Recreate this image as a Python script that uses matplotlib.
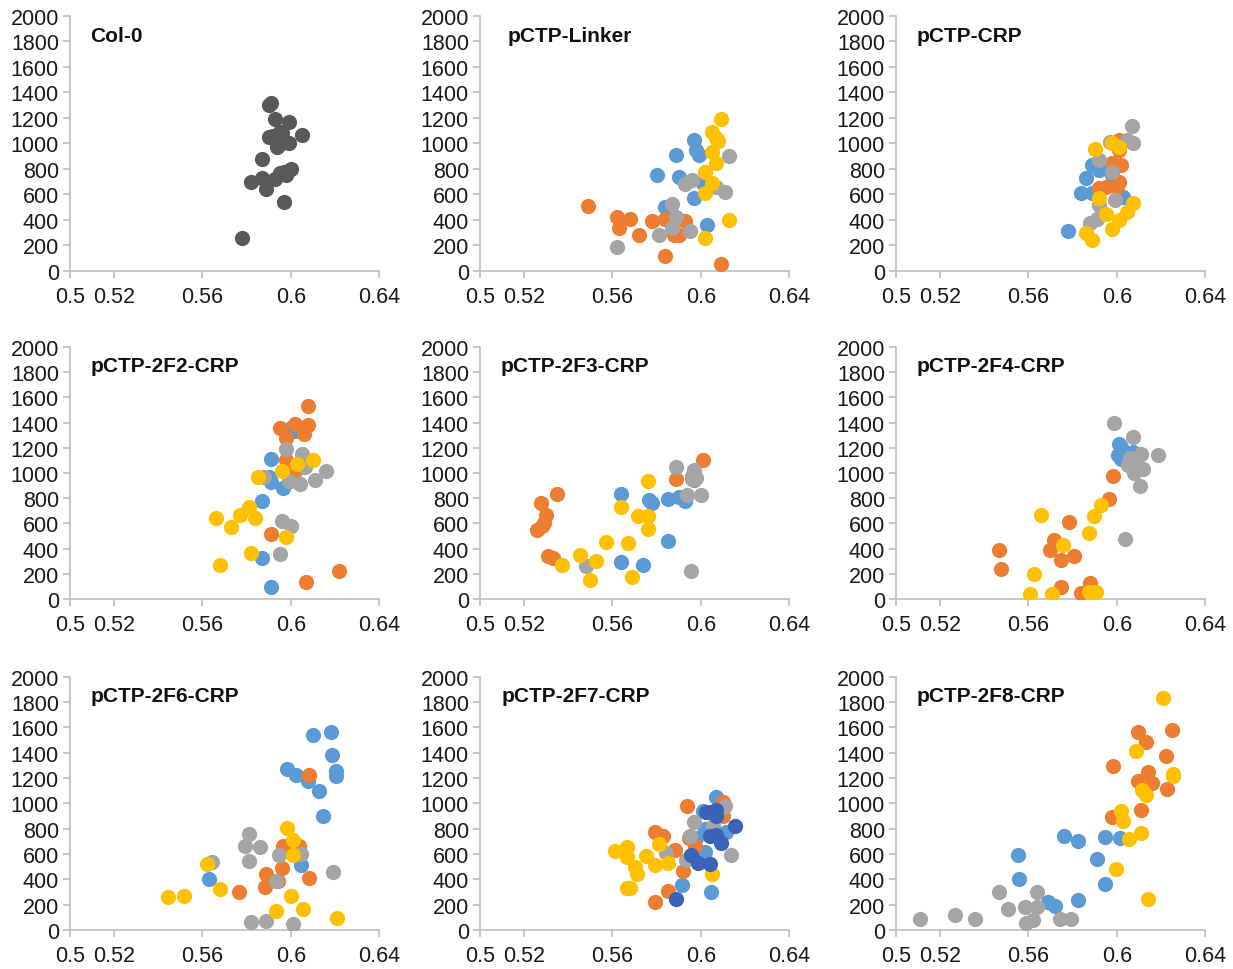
import matplotlib
matplotlib.use("Agg")
import matplotlib.pyplot as plt

plt.rcParams['font.family'] = ['Liberation Sans', 'DejaVu Sans']

# ---------------- data ----------------
x_ticks = [0.5, 0.52, 0.56, 0.6, 0.64]
x_tick_labels = ["0.5", "0.52", "0.56", "0.6", "0.64"]
y_ticks = list(range(0, 2001, 200))

titles = ["Col-0", "pCTP-Linker", "pCTP-CRP",
          "pCTP-2F2-CRP", "pCTP-2F3-CRP", "pCTP-2F4-CRP",
          "pCTP-2F6-CRP", "pCTP-2F7-CRP", "pCTP-2F8-CRP"]

# Col-0
col0_x = [0.578, 0.582, 0.587, 0.587, 0.589, 0.590, 0.591, 0.593, 0.590, 0.593, 0.595, 0.596,
          0.594, 0.596, 0.599, 0.599, 0.605, 0.597, 0.593, 0.595, 0.597, 0.600, 0.598, 0.592]
col0_y = [260, 700, 880, 730, 640, 1300, 1320, 1190, 1050, 1040, 1090, 1080,
          975, 1000, 1165, 1000, 1070, 540, 725, 765, 780, 800, 750, 1060]

# pCTP-Linker
lk_blue_x = [0.580, 0.589, 0.590, 0.584, 0.597, 0.598, 0.599, 0.597, 0.601, 0.603]
lk_blue_y = [750, 910, 740, 505, 1030, 950, 910, 570, 690, 360]
lk_orange_x = [0.549, 0.562, 0.563, 0.568, 0.572, 0.578, 0.584, 0.584, 0.588, 0.590, 0.593, 0.609]
lk_orange_y = [510, 420, 340, 410, 280, 390, 410, 120, 280, 280, 390, 55]
lk_gray_x = [0.562, 0.581, 0.587, 0.587, 0.589, 0.595, 0.593, 0.596, 0.607, 0.611, 0.613]
lk_gray_y = [190, 280, 340, 525, 420, 315, 680, 710, 660, 620, 900]
lk_yellow_x = [0.609, 0.605, 0.607, 0.608, 0.605, 0.607, 0.602, 0.605, 0.602, 0.602, 0.613]
lk_yellow_y = [1190, 1090, 1040, 1020, 935, 850, 780, 690, 610, 260, 400]

# pCTP-CRP
crp_blue_x = [0.578, 0.584, 0.586, 0.589, 0.592, 0.589, 0.603, 0.598]
crp_blue_y = [310, 610, 730, 830, 790, 610, 580, 750]
crp_orange_x = [0.592, 0.595, 0.598, 0.602, 0.601, 0.600, 0.601, 0.601]
crp_orange_y = [650, 660, 845, 830, 700, 660, 1030, 950]
crp_gray_x = [0.607, 0.6075, 0.6045, 0.597, 0.592, 0.598, 0.599, 0.592, 0.588, 0.591]
crp_gray_y = [1135, 1000, 1030, 1015, 870, 780, 560, 515, 380, 410]
crp_yellow_x = [0.590, 0.598, 0.601, 0.592, 0.595, 0.598, 0.601, 0.6045, 0.6075, 0.586, 0.589]
crp_yellow_y = [960, 1000, 970, 570, 450, 333, 400, 465, 530, 295, 245]

# pCTP-2F2-CRP
f2_blue_x = [0.600, 0.602, 0.591, 0.590, 0.591, 0.5965, 0.5995, 0.587, 0.587, 0.591]
f2_blue_y = [1360, 1335, 1110, 965, 925, 880, 940, 775, 325, 92]
f2_orange_x = [0.608, 0.602, 0.595, 0.608, 0.606, 0.598, 0.598, 0.602, 0.591, 0.607, 0.622]
f2_orange_y = [1530, 1390, 1360, 1380, 1310, 1280, 1100, 1020, 515, 135, 225]
f2_gray_x = [0.598, 0.605, 0.6065, 0.604, 0.599, 0.611, 0.616, 0.596, 0.600, 0.595, 0.588]
f2_gray_y = [1190, 1150, 1045, 910, 940, 945, 1015, 620, 580, 357, 965]
f2_yellow_x = [0.566, 0.573, 0.577, 0.581, 0.584, 0.568, 0.582, 0.585, 0.596, 0.603, 0.610, 0.598]
f2_yellow_y = [640, 575, 670, 730, 640, 272, 362, 965, 1020, 1070, 1100, 490]

# pCTP-2F3-CRP
f3_blue_x = [0.5638, 0.5638, 0.574, 0.5766, 0.578, 0.585, 0.590, 0.5928, 0.585, 0.597]
f3_blue_y = [833, 291, 272, 788, 762, 796, 807, 775, 458, 947]
f3_orange_x = [0.535, 0.5276, 0.530, 0.529, 0.528, 0.5256, 0.531, 0.533, 0.601, 0.589]
f3_orange_y = [830, 762, 670, 603, 577, 545, 339, 325, 1105, 952]
f3_gray_x = [0.548, 0.5958, 0.589, 0.597, 0.598, 0.596, 0.594, 0.600, 0.596]
f3_gray_y = [260, 220, 1048, 1026, 960, 980, 828, 828, 950]
f3_yellow_x = [0.537, 0.5453, 0.5498, 0.5525, 0.5573, 0.5638, 0.5671, 0.569, 0.5714, 0.5762, 0.5762, 0.5762]
f3_yellow_y = [272, 352, 153, 299, 452, 730, 444, 175, 656, 934, 656, 558]

# pCTP-2F4-CRP
f4_blue_x = [0.601, 0.602, 0.6005, 0.6037, 0.6075, 0.602]
f4_blue_y = [1233, 1206, 1140, 1140, 1167, 1113]
f4_orange_x = [0.5985, 0.5967, 0.5785, 0.5717, 0.5698, 0.5748, 0.5806, 0.5468, 0.5476, 0.5748, 0.5837, 0.5879]
f4_orange_y = [976, 796, 611, 471, 392, 312, 341, 386, 241, 95, 48, 127]
f4_gray_x = [0.5988, 0.6075, 0.6189, 0.611, 0.6106, 0.6038, 0.607, 0.610, 0.605, 0.608, 0.612, 0.606]
f4_gray_y = [1395, 1286, 1140, 1148, 894, 479, 1080, 1050, 1060, 1000, 1030, 1120]
f4_yellow_x = [0.5657, 0.5758, 0.5627, 0.5607, 0.5708, 0.5876, 0.5906, 0.5876, 0.5897, 0.5929]
f4_yellow_y = [669, 426, 201, 37, 37, 56, 56, 524, 656, 749]

# pCTP-2F6-CRP
f6_blue_x = [0.6101, 0.6181, 0.6189, 0.6204, 0.6204, 0.5984, 0.6026, 0.6079, 0.6128, 0.6147, 0.6048, 0.5631]
f6_blue_y = [1538, 1564, 1379, 1255, 1215, 1273, 1228, 1176, 1102, 898, 510, 404]
f6_orange_x = [0.6083, 0.5966, 0.6008, 0.6038, 0.5962, 0.5943, 0.5887, 0.5883, 0.5766, 0.6083]
f6_orange_y = [1223, 660, 660, 660, 489, 388, 441, 343, 304, 410]
f6_gray_x = [0.5812, 0.5792, 0.586, 0.5812, 0.5641, 0.5947, 0.6048, 0.5932, 0.6192, 0.5822, 0.589, 0.6008]
f6_gray_y = [758, 660, 653, 542, 536, 594, 600, 388, 457, 66, 74, 45]
f6_yellow_x = [0.5442, 0.5517, 0.5622, 0.5679, 0.5981, 0.6011, 0.6011, 0.600, 0.5932, 0.6056, 0.6211]
f6_yellow_y = [259, 272, 520, 322, 806, 708, 594, 272, 153, 164, 98]

# pCTP-2F7-CRP
f7_blue_x = [0.6068, 0.6011, 0.598, 0.6018, 0.6048, 0.5913, 0.6018, 0.6116]
f7_blue_y = [1050, 937, 726, 620, 303, 356, 797, 778]
f7_orange_x = [0.5792, 0.5827, 0.5883, 0.594, 0.592, 0.585, 0.5792, 0.5947, 0.5973, 0.6101, 0.6101]
f7_orange_y = [773, 744, 633, 976, 470, 309, 224, 726, 660, 1010, 902]
f7_gray_x = [0.5842, 0.5935, 0.595, 0.597, 0.6109, 0.6139, 0.6056]
f7_gray_y = [612, 554, 744, 850, 981, 594, 818]
f7_yellow_x = [0.5611, 0.5664, 0.5664, 0.5702, 0.5712, 0.5664, 0.5679, 0.5751, 0.5792, 0.5812, 0.585, 0.6053]
f7_yellow_y = [625, 654, 575, 501, 443, 330, 330, 586, 514, 681, 533, 443]
f7_navy_x = [0.6026, 0.6048, 0.6068, 0.607, 0.6041, 0.6068, 0.6094, 0.6154, 0.5956, 0.5988, 0.6041, 0.589]
f7_navy_y = [929, 929, 950, 897, 739, 752, 686, 818, 594, 528, 522, 243]

# pCTP-2F8-CRP
f8_blue_x = [0.5554, 0.5559, 0.569, 0.572, 0.5763, 0.5826, 0.5826, 0.5909, 0.5947, 0.5947, 0.6015]
f8_blue_y = [594, 404, 224, 193, 739, 704, 237, 562, 731, 361, 726]
f8_orange_x = [0.5985, 0.6098, 0.6133, 0.6249, 0.6222, 0.6143, 0.6158, 0.6098, 0.6226, 0.611, 0.5977]
f8_orange_y = [1293, 1565, 1483, 1578, 1377, 1248, 1161, 1174, 1113, 945, 892]
f8_gray_x = [0.5109, 0.5267, 0.5358, 0.5468, 0.5509, 0.5584, 0.5637, 0.5637, 0.5587, 0.5622, 0.5743, 0.5791]
f8_gray_y = [87, 119, 87, 303, 166, 185, 185, 298, 53, 79, 84, 84]
f8_yellow_x = [0.6208, 0.6087, 0.6257, 0.6257, 0.6113, 0.6133, 0.6019, 0.6027, 0.6057, 0.611, 0.5997, 0.6143]
f8_yellow_y = [1834, 1412, 1235, 1214, 1108, 1069, 937, 858, 718, 765, 483, 245]

# ---------------- styles ----------------
C_DARK = "#595959"
C_BLUE = "#5B9BD5"
C_ORANGE = "#ED7D31"
C_GRAY = "#A5A5A5"
C_YELLOW = "#FFC000"
C_NAVY = "#3A63B8"

panels = [
    [(col0_x, col0_y, C_DARK)],
    [(lk_blue_x, lk_blue_y, C_BLUE), (lk_orange_x, lk_orange_y, C_ORANGE),
     (lk_gray_x, lk_gray_y, C_GRAY), (lk_yellow_x, lk_yellow_y, C_YELLOW)],
    [(crp_blue_x, crp_blue_y, C_BLUE), (crp_orange_x, crp_orange_y, C_ORANGE),
     (crp_gray_x, crp_gray_y, C_GRAY), (crp_yellow_x, crp_yellow_y, C_YELLOW)],
    [(f2_blue_x, f2_blue_y, C_BLUE), (f2_orange_x, f2_orange_y, C_ORANGE),
     (f2_gray_x, f2_gray_y, C_GRAY), (f2_yellow_x, f2_yellow_y, C_YELLOW)],
    [(f3_blue_x, f3_blue_y, C_BLUE), (f3_orange_x, f3_orange_y, C_ORANGE),
     (f3_gray_x, f3_gray_y, C_GRAY), (f3_yellow_x, f3_yellow_y, C_YELLOW)],
    [(f4_blue_x, f4_blue_y, C_BLUE), (f4_orange_x, f4_orange_y, C_ORANGE),
     (f4_gray_x, f4_gray_y, C_GRAY), (f4_yellow_x, f4_yellow_y, C_YELLOW)],
    [(f6_blue_x, f6_blue_y, C_BLUE), (f6_orange_x, f6_orange_y, C_ORANGE),
     (f6_gray_x, f6_gray_y, C_GRAY), (f6_yellow_x, f6_yellow_y, C_YELLOW)],
    [(f7_blue_x, f7_blue_y, C_BLUE), (f7_orange_x, f7_orange_y, C_ORANGE),
     (f7_gray_x, f7_gray_y, C_GRAY), (f7_yellow_x, f7_yellow_y, C_YELLOW),
     (f7_navy_x, f7_navy_y, C_NAVY)],
    [(f8_blue_x, f8_blue_y, C_BLUE), (f8_orange_x, f8_orange_y, C_ORANGE),
     (f8_gray_x, f8_gray_y, C_GRAY), (f8_yellow_x, f8_yellow_y, C_YELLOW)],
]

fig = plt.figure(figsize=(12.33, 9.70), dpi=100)

col_left = [0.0568, 0.3893, 0.7267]
ax_w = 0.2506
row_bottom = [0.7196, 0.3814, 0.0402]
row_h = [0.2629, 0.2598, 0.2610]
title_x = [0.065, 0.09, 0.068, 0.065, 0.067, 0.065, 0.065, 0.07, 0.065]

SPINE = "#BFBFBF"
for i, series in enumerate(panels):
    r, c = divmod(i, 3)
    ax = fig.add_axes([col_left[c], row_bottom[r], ax_w, row_h[r]])
    for xs, ys, col in series:
        ax.scatter(xs, ys, s=120, color=col, linewidths=0, zorder=3)
    ax.set_xlim(0.5, 0.64)
    ax.set_ylim(0, 2000)
    ax.set_xticks(x_ticks)
    ax.set_xticklabels(x_tick_labels)
    ax.set_yticks(y_ticks)
    for s in ["top", "right"]:
        ax.spines[s].set_visible(False)
    for s in ["left", "bottom"]:
        ax.spines[s].set_color(SPINE)
        ax.spines[s].set_linewidth(1.2)
    ax.tick_params(axis="both", direction="out", length=5, width=1.2, color=SPINE,
                   labelsize=15.5, labelcolor="#1a1a1a")
    ax.tick_params(axis="y", pad=3)
    ax.tick_params(axis="x", pad=6)
    ax.text(title_x[i], 0.925, titles[i], transform=ax.transAxes, fontsize=15,
            fontweight="bold", ha="left", va="center", color="#111111")

fig.savefig("out.png", dpi=100)
